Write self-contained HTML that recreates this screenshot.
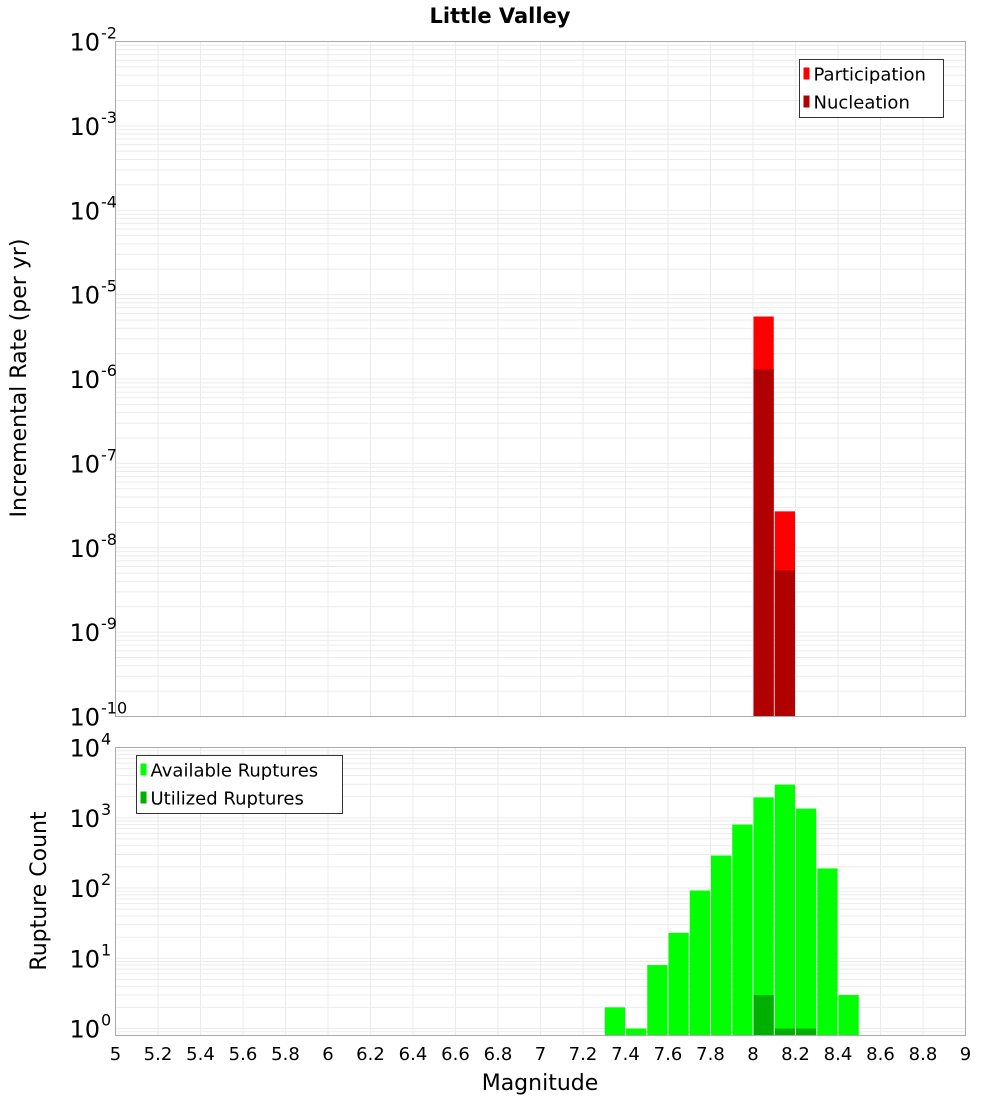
<!DOCTYPE html>
<html><head><meta charset="utf-8"><style>
html,body{margin:0;padding:0;background:#fff;}
svg{display:block;font-family:"DejaVu Sans","Liberation Sans",sans-serif;}
</style></head><body>
<svg id="chart" width="1000" height="1100" viewBox="0 0 1000 1100" xmlns="http://www.w3.org/2000/svg">
<text x="500" y="23" text-anchor="middle" font-size="21" font-weight="bold">Little Valley</text>
<g id="gtop"></g>
<g id="gbot"></g>
<text transform="translate(26,378) rotate(-90)" text-anchor="middle" font-size="22">Incremental Rate (per yr)</text>
<text transform="translate(46,891) rotate(-90)" text-anchor="middle" font-size="22">Rupture Count</text>
<text x="540" y="1090" text-anchor="middle" font-size="22">Magnitude</text>
</svg>
<script>
const magBins = [7.35,7.45,7.55,7.65,7.75,7.85,7.95,8.05,8.15,8.25,8.35,8.45];
const availableCounts = [2,1,8,23,92,290,800,1950,2960,1350,190,3];
const utilizedCounts = [0,0,0,0,0,0,0,3,1,1,0,0];
const rateBins = [8.05,8.15];
const participationRates = [5.5e-6,2.7e-8];
const nucleationRates = [1.3e-6,5.4e-9];
const xTicks = [5,5.2,5.4,5.6,5.8,6,6.2,6.4,6.6,6.8,7,7.2,7.4,7.6,7.8,8,8.2,8.4,8.6,8.8,9];
const topExps = [-2,-3,-4,-5,-6,-7,-8,-9,-10];
const botExps = [4,3,2,1,0];

const NS='http://www.w3.org/2000/svg';
const L=115.5,R=965.5;
const xs=m=>L+(m-5)/4*(R-L);
const T1=41.5,B1=716.5, yTop=v=>T1+(-2-Math.log10(v))/8*(B1-T1);
const T2=747.5,B2=1035.5, dec2=70.25, yBot=v=>T2+(4-Math.log10(v))*dec2;
function mk(p,tag,a,txt){const e=document.createElementNS(NS,tag);for(const k in a)e.setAttribute(k,a[k]);if(txt!==undefined)e.textContent=txt;p.appendChild(e);return e;}
const gTop=document.getElementById('gtop'),gBot=document.getElementById('gbot');

function grid(g,T,B,ys,d0,d1){
  xTicks.forEach(t=>{const x=xs(t);const l=mk(g,'line',{x1:x,x2:x,y1:T,y2:B,stroke:'#ebebeb','stroke-width':1});
    
    });
  for(let d=d0;d<d1;d++)for(let k=1;k<10;k++){const v=k*Math.pow(10,d);const y=ys(v);if(y<T||y>B)continue;
    const l=mk(g,'line',{x1:L,x2:R,y1:y,y2:y,stroke:'#ebebeb','stroke-width':1});
    
    }
}
grid(gTop,T1,B1,yTop,-10,-2);
grid(gBot,T2,B2,yBot,-1,4);

function bar(g,m,v,ys,B,fill,name){if(!(v>0))return;const x0=xs(m-0.05)+0.5,x1=xs(m+0.05)-0.5;const y=ys(v);
  const r=mk(g,'rect',{x:x0,y:y,width:x1-x0,height:B-y,fill:fill});
  
  }
rateBins.forEach((m,i)=>bar(gTop,m,participationRates[i],yTop,B1,'#ff0000','participation-bar'));
rateBins.forEach((m,i)=>bar(gTop,m,nucleationRates[i],yTop,B1,'#b00000','nucleation-bar'));
magBins.forEach((m,i)=>bar(gBot,m,availableCounts[i],yBot,B2,'#00ff00','available-bar'));
magBins.forEach((m,i)=>bar(gBot,m,utilizedCounts[i],yBot,B2,'#00b000','utilized-bar'));

[[gTop,T1,B1],[gBot,T2,B2]].forEach(([g,T,B])=>{const r=mk(g,'rect',{x:L,y:T,width:R-L,height:B-T,fill:'none',stroke:'#aaaaaa','stroke-width':1});
  
  });

function ylab(g,y,e){const t=mk(g,'text',{x:100,y:y+9,'text-anchor':'end','font-size':24});
  
  
  t.textContent='10';
  const s=mk(g,'text',{x:101,y:y-3,'font-size':16},String(e));
  
  }
topExps.forEach(e=>ylab(gTop,yTop(Math.pow(10,e)),e));
botExps.forEach(e=>ylab(gBot,yBot(Math.pow(10,e)),e));
xTicks.forEach(t=>{const l=mk(gBot,'text',{x:xs(t),y:1060,'text-anchor':'middle','font-size':18},String(t));
  
  });

function legend(g,x,y,w,items){const r=mk(g,'rect',{x:x,y:y,width:w,height:58,fill:'#fff',stroke:'#333','stroke-width':1});
  
  
  items.forEach((it,i)=>{const cy=y+14+i*28;const s=mk(g,'rect',{x:x+4,y:cy-6,width:6,height:12,fill:it[1]});
    
    
    const t=mk(g,'text',{x:x+14,y:cy+7,'font-size':18},it[0]);
    
    });}
legend(gTop,799.5,59.5,144,[['Participation','#ff0000'],['Nucleation','#b00000']]);
legend(gBot,136.5,755.5,206,[['Available Ruptures','#00ff00'],['Utilized Ruptures','#00b000']]);
</script>
</body></html>
